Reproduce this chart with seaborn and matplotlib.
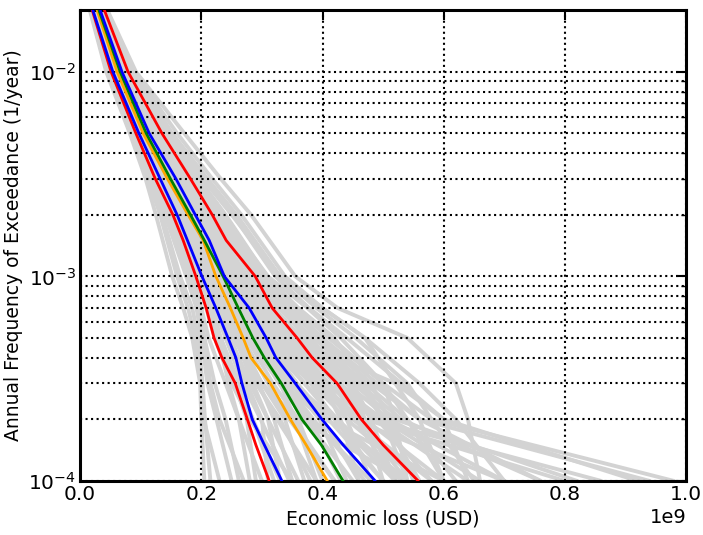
import numpy as np
import pandas as pd
import matplotlib
matplotlib.use("Agg")
import matplotlib.pyplot as plt
import seaborn as sns
from matplotlib.ticker import LogLocator, MultipleLocator

# Annual frequency levels at which the loss curves are evaluated
freq_grey = [2e-2, 1e-2, 5e-3, 3e-3, 2e-3, 1e-3, 7e-4, 5e-4, 3e-4, 2e-4, 1e-4]
freq_stats = [2e-2, 1e-2, 5e-3, 3e-3, 2e-3, 1.5e-3, 1e-3, 7e-4, 5e-4, 4e-4,
              3e-4, 2e-4, 1.5e-4, 1e-4]

# Individual realisation loss curves (loss in units of 1e9 USD)
g01 = [0.016, 0.043, 0.082, 0.108, 0.125, 0.152, 0.170, 0.185, 0.198, 0.200, 0.205]
g02 = [0.018, 0.046, 0.086, 0.114, 0.135, 0.165, 0.185, 0.195, 0.202, 0.206, 0.215]
g03 = [0.019, 0.049, 0.089, 0.118, 0.142, 0.178, 0.195, 0.205, 0.222, 0.240, 0.262]
g04 = [0.020, 0.050, 0.091, 0.121, 0.148, 0.186, 0.200, 0.212, 0.240, 0.262, 0.300]
g05 = [0.021, 0.052, 0.094, 0.126, 0.152, 0.192, 0.210, 0.225, 0.255, 0.275, 0.290]
g06 = [0.022, 0.054, 0.096, 0.130, 0.157, 0.198, 0.218, 0.232, 0.262, 0.285, 0.320]
g07 = [0.023, 0.055, 0.098, 0.133, 0.161, 0.204, 0.224, 0.240, 0.268, 0.298, 0.345]
g08 = [0.024, 0.057, 0.100, 0.136, 0.165, 0.208, 0.230, 0.248, 0.280, 0.310, 0.360]
g09 = [0.025, 0.058, 0.101, 0.139, 0.168, 0.212, 0.235, 0.255, 0.292, 0.325, 0.390]
g10 = [0.026, 0.059, 0.102, 0.141, 0.172, 0.216, 0.240, 0.262, 0.300, 0.338, 0.370]
g11 = [0.027, 0.060, 0.104, 0.143, 0.175, 0.220, 0.245, 0.268, 0.310, 0.350, 0.420]
g12 = [0.028, 0.061, 0.105, 0.145, 0.178, 0.224, 0.250, 0.275, 0.318, 0.360, 0.400]
g13 = [0.028, 0.062, 0.107, 0.147, 0.180, 0.228, 0.255, 0.282, 0.328, 0.372, 0.450]
g14 = [0.029, 0.063, 0.108, 0.149, 0.182, 0.232, 0.260, 0.288, 0.338, 0.385, 0.470]
g15 = [0.030, 0.064, 0.110, 0.151, 0.185, 0.236, 0.266, 0.295, 0.348, 0.395, 0.440]
g16 = [0.031, 0.065, 0.112, 0.153, 0.188, 0.240, 0.272, 0.302, 0.358, 0.410, 0.500]
g17 = [0.031, 0.066, 0.113, 0.155, 0.191, 0.244, 0.278, 0.310, 0.370, 0.425, 0.530]
g18 = [0.032, 0.067, 0.115, 0.158, 0.194, 0.248, 0.284, 0.318, 0.382, 0.440, 0.560]
g19 = [0.033, 0.068, 0.117, 0.161, 0.197, 0.252, 0.290, 0.326, 0.395, 0.455, 0.520]
g20 = [0.034, 0.070, 0.120, 0.165, 0.202, 0.258, 0.298, 0.336, 0.410, 0.470, 0.600]
g21 = [0.035, 0.072, 0.123, 0.169, 0.207, 0.265, 0.306, 0.346, 0.425, 0.490, 0.640]
g22 = [0.036, 0.074, 0.127, 0.174, 0.213, 0.272, 0.316, 0.360, 0.440, 0.510, 0.700]
g23 = [0.038, 0.077, 0.131, 0.180, 0.220, 0.282, 0.328, 0.375, 0.460, 0.530, 0.760]
g24 = [0.039, 0.080, 0.136, 0.187, 0.229, 0.294, 0.342, 0.392, 0.480, 0.560, 0.940]
g25 = [0.041, 0.083, 0.142, 0.196, 0.240, 0.308, 0.360, 0.415, 0.500, 0.580, 0.980]
g26 = [0.042, 0.086, 0.150, 0.206, 0.252, 0.322, 0.378, 0.440, 0.530, 0.600, 0.920]
g27 = [0.044, 0.089, 0.160, 0.218, 0.266, 0.338, 0.400, 0.470, 0.560, 0.620, 0.700]
g28 = [0.045, 0.092, 0.172, 0.232, 0.282, 0.355, 0.425, 0.540, 0.620, 0.640, 0.660]
g29 = [0.026, 0.060, 0.106, 0.150, 0.186, 0.246, 0.290, 0.345, 0.520, 0.600, 0.640]
g30 = [0.030, 0.066, 0.116, 0.162, 0.200, 0.262, 0.310, 0.370, 0.450, 0.480, 0.860]
g31 = [0.022, 0.053, 0.097, 0.132, 0.160, 0.205, 0.228, 0.252, 0.300, 0.360, 0.540]
g32 = [0.033, 0.069, 0.118, 0.166, 0.206, 0.270, 0.320, 0.365, 0.420, 0.450, 0.580]
g33 = [0.027, 0.061, 0.106, 0.147, 0.182, 0.238, 0.272, 0.310, 0.380, 0.470, 0.800]
g34 = [0.024, 0.056, 0.099, 0.135, 0.165, 0.212, 0.240, 0.272, 0.335, 0.400, 0.460]
g35 = [0.017, 0.045, 0.084, 0.112, 0.132, 0.160, 0.178, 0.190, 0.200, 0.204, 0.230]
g36 = [0.037, 0.076, 0.130, 0.182, 0.225, 0.290, 0.340, 0.395, 0.480, 0.510, 0.550]
g37 = [0.029, 0.063, 0.109, 0.152, 0.188, 0.242, 0.275, 0.300, 0.340, 0.380, 0.430]
g38 = [0.032, 0.068, 0.116, 0.160, 0.196, 0.255, 0.295, 0.332, 0.402, 0.500, 0.660]
g39 = [0.025, 0.058, 0.102, 0.140, 0.170, 0.214, 0.236, 0.256, 0.285, 0.310, 0.330]
g40 = [0.035, 0.073, 0.125, 0.172, 0.212, 0.275, 0.330, 0.385, 0.470, 0.540, 0.620]
g41 = [0.024, 0.056, 0.100, 0.138, 0.170, 0.220, 0.248, 0.275, 0.330, 0.380, 0.480]
g42 = [0.027, 0.060, 0.104, 0.146, 0.180, 0.232, 0.262, 0.292, 0.352, 0.420, 0.520]
g43 = [0.030, 0.065, 0.112, 0.156, 0.192, 0.250, 0.290, 0.330, 0.400, 0.460, 0.540]
g44 = [0.033, 0.070, 0.120, 0.168, 0.208, 0.268, 0.312, 0.355, 0.430, 0.490, 0.580]
g45 = [0.036, 0.075, 0.128, 0.178, 0.220, 0.285, 0.335, 0.380, 0.440, 0.480, 0.520]
g46 = [0.040, 0.082, 0.140, 0.195, 0.238, 0.305, 0.355, 0.410, 0.500, 0.540, 0.600]
g47 = [0.043, 0.087, 0.152, 0.210, 0.258, 0.330, 0.390, 0.455, 0.540, 0.580, 0.650]
g48 = [0.021, 0.051, 0.093, 0.125, 0.150, 0.190, 0.208, 0.222, 0.250, 0.280, 0.350]
g49 = [0.019, 0.048, 0.088, 0.117, 0.140, 0.175, 0.192, 0.200, 0.210, 0.225, 0.250]
g50 = [0.025, 0.058, 0.103, 0.142, 0.175, 0.228, 0.258, 0.288, 0.345, 0.405, 0.600]
g51 = [0.028, 0.062, 0.108, 0.150, 0.185, 0.240, 0.280, 0.320, 0.390, 0.450, 0.700]
g52 = [0.031, 0.067, 0.116, 0.160, 0.198, 0.256, 0.300, 0.345, 0.410, 0.440, 0.480]
g53 = [0.034, 0.071, 0.122, 0.170, 0.210, 0.272, 0.318, 0.362, 0.450, 0.520, 0.820]
g54 = [0.037, 0.077, 0.133, 0.185, 0.228, 0.296, 0.348, 0.400, 0.490, 0.560, 0.760]
g55 = [0.022, 0.054, 0.096, 0.131, 0.158, 0.200, 0.222, 0.240, 0.275, 0.300, 0.310]
g56 = [0.029, 0.064, 0.111, 0.154, 0.190, 0.246, 0.285, 0.325, 0.380, 0.420, 0.500]
g57 = [0.032, 0.069, 0.119, 0.164, 0.203, 0.262, 0.305, 0.350, 0.420, 0.500, 0.560]
g58 = [0.039, 0.079, 0.138, 0.192, 0.236, 0.300, 0.350, 0.395, 0.460, 0.500, 0.560]
g59 = [0.026, 0.059, 0.104, 0.144, 0.178, 0.230, 0.262, 0.300, 0.370, 0.420, 0.540]
g60 = [0.023, 0.055, 0.098, 0.134, 0.163, 0.208, 0.232, 0.258, 0.300, 0.345, 0.420]
g61 = [0.020, 0.050, 0.090, 0.120, 0.145, 0.182, 0.198, 0.205, 0.215, 0.230, 0.270]
g62 = [0.023, 0.054, 0.097, 0.132, 0.160, 0.200, 0.215, 0.228, 0.245, 0.262, 0.280]
g63 = [0.026, 0.058, 0.103, 0.143, 0.176, 0.226, 0.252, 0.270, 0.295, 0.320, 0.350]
g64 = [0.030, 0.064, 0.111, 0.157, 0.196, 0.262, 0.305, 0.345, 0.400, 0.430, 0.460]
g65 = [0.034, 0.071, 0.124, 0.175, 0.218, 0.290, 0.345, 0.400, 0.450, 0.470, 0.500]
g66 = [0.038, 0.078, 0.135, 0.190, 0.235, 0.310, 0.375, 0.430, 0.500, 0.520, 0.540]
g67 = [0.041, 0.084, 0.146, 0.202, 0.250, 0.330, 0.400, 0.470, 0.520, 0.560, 0.600]
g68 = [0.027, 0.060, 0.106, 0.148, 0.183, 0.238, 0.270, 0.298, 0.330, 0.355, 0.390]
g69 = [0.021, 0.052, 0.094, 0.127, 0.154, 0.196, 0.215, 0.232, 0.260, 0.285, 0.330]
g70 = [0.032, 0.068, 0.117, 0.163, 0.202, 0.268, 0.315, 0.360, 0.430, 0.470, 0.520]
g71 = [0.025, 0.057, 0.101, 0.140, 0.172, 0.222, 0.245, 0.262, 0.290, 0.330, 0.380]
g72 = [0.036, 0.074, 0.128, 0.180, 0.225, 0.300, 0.360, 0.420, 0.470, 0.500, 0.540]

realisations = [g01, g02, g03, g04, g05, g06, g07, g08, g09, g10,
                g11, g12, g13, g14, g15, g16, g17, g18, g19, g20,
                g21, g22, g23, g24, g25, g26, g27, g28, g29, g30,
                g31, g32, g33, g34, g35, g36, g37, g38, g39, g40,
                g41, g42, g43, g44, g45, g46, g47, g48, g49, g50,
                g51, g52, g53, g54, g55, g56, g57, g58, g59, g60,
                g61, g62, g63, g64, g65, g66, g67, g68, g69, g70,
                g71, g72]

# Summary statistics curves (loss in units of 1e9 USD)
q05 = [0.020, 0.051, 0.092, 0.124, 0.153, 0.170, 0.191, 0.208, 0.221, 0.234, 0.256, 0.276, 0.290, 0.312]
q15 = [0.021, 0.054, 0.097, 0.132, 0.160, 0.177, 0.201, 0.224, 0.244, 0.257, 0.267, 0.284, 0.304, 0.333]
median = [0.028, 0.061, 0.104, 0.144, 0.178, 0.203, 0.224, 0.248, 0.269, 0.282, 0.314, 0.347, 0.373, 0.408]
mean = [0.031, 0.066, 0.109, 0.149, 0.182, 0.205, 0.236, 0.261, 0.285, 0.304, 0.332, 0.366, 0.398, 0.434]
q85 = [0.033, 0.069, 0.114, 0.158, 0.190, 0.213, 0.238, 0.279, 0.307, 0.323, 0.355, 0.399, 0.434, 0.487]
q95 = [0.040, 0.079, 0.135, 0.182, 0.218, 0.241, 0.289, 0.317, 0.358, 0.383, 0.424, 0.464, 0.500, 0.558]

grey_rows = []
for i, curve in enumerate(realisations):
    for f, l in zip(freq_grey, curve):
        grey_rows.append({"curve": i, "loss": l * 1e9, "freq": f})
grey_df = pd.DataFrame(grey_rows)

stat_curves = [("q05", q05, "red"), ("q15", q15, "blue"),
               ("median", median, "orange"), ("mean", mean, "green"),
               ("q85", q85, "blue"), ("q95", q95, "red")]

sns.set_style("white")
plt.rcParams["font.family"] = ["DejaVu Sans"]
plt.rcParams["text.color"] = "black"
plt.rcParams["axes.labelcolor"] = "black"
plt.rcParams["xtick.color"] = "black"
plt.rcParams["ytick.color"] = "black"

fig = plt.figure(figsize=(7.03, 5.35), dpi=100)
ax = fig.add_axes([0.114, 0.101, 0.862, 0.880])

sns.lineplot(data=grey_df, x="loss", y="freq", units="curve", estimator=None,
             sort=False, color="#d3d3d3", lw=2.8, ax=ax, zorder=1, legend=False)

for name, vals, col in stat_curves:
    sdf = pd.DataFrame({"loss": np.array(vals) * 1e9, "freq": freq_stats})
    sns.lineplot(data=sdf, x="loss", y="freq", sort=False, color=col, lw=2,
                 ax=ax, zorder=3, legend=False)

ax.set_yscale("log")
ax.set_xlim(0, 1e9)
ax.set_ylim(1e-4, 2e-2)
ax.xaxis.set_major_locator(MultipleLocator(0.2e9))
ax.yaxis.set_major_locator(LogLocator(base=10))
ax.yaxis.set_minor_locator(LogLocator(base=10, subs=np.arange(2, 10)))

ax.set_axisbelow("line")
ax.grid(True, which="major", axis="x", color="black", linestyle=":", lw=1.5, zorder=2)
ax.grid(True, which="both", axis="y", color="black", linestyle=":", lw=1.5, zorder=2)

for s in ax.spines.values():
    s.set_linewidth(2.2)
    s.set_color("black")
ax.tick_params(which="major", direction="in", length=7, width=1.5,
               top=True, right=True, labelsize=14.5, pad=3)
ax.tick_params(which="minor", direction="in", length=3.5, width=1,
               top=True, right=True)
ax.xaxis.get_offset_text().set_fontsize(14)

ax.set_xlabel("Economic loss (USD)", fontsize=13.5)
ax.set_ylabel("Annual Frequency of Exceedance (1/year)", fontsize=13.5)

fig.savefig("out.png", dpi=100)
